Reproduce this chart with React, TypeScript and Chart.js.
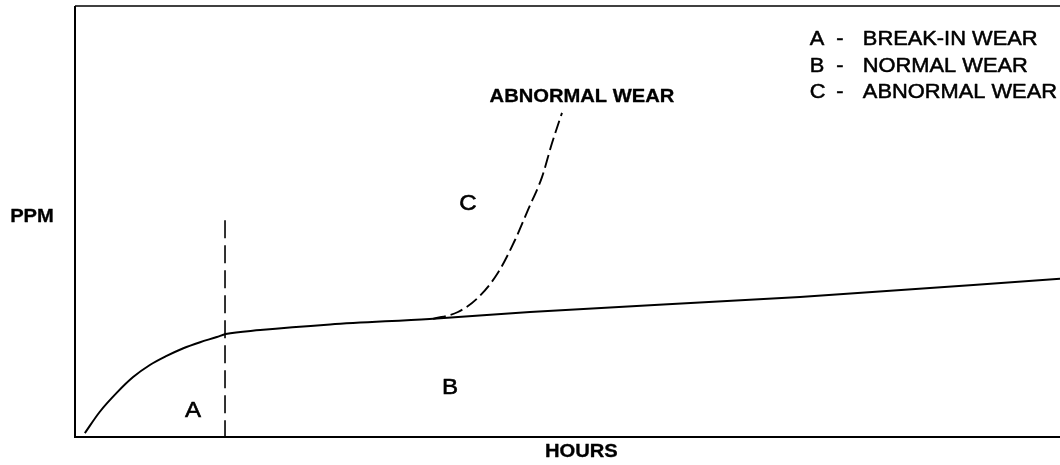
import React, { useEffect, useRef } from "react";
import { Chart, registerables } from "chart.js";

Chart.register(...registerables);

// Normal wear curve (break-in rise then slow linear increase)
const wearHours = [1.0, 2.5, 4.3, 5.9, 7.6, 9.3, 11.0, 12.7, 14.4, 15.3, 18.8, 25.9, 36.0, 46.2, 73.6, 100];
const wearPpm = [0.9, 5.8, 10.4, 13.9, 16.7, 18.8, 20.6, 22.0, 23.2, 23.9, 24.8, 26.1, 27.4, 29.0, 32.5, 36.7];

// Abnormal wear branch (dashed)
const abnormalHours = [36.35, 38.88, 40.91, 42.94, 44.67, 45.99, 47.41, 48.43, 49.44];
const abnormalPpm = [27.4, 29.0, 32.3, 38.1, 45.7, 52.7, 60.3, 68.2, 75.2];

// End of break-in period (vertical dashed divider)
const breakInEndHours = [15.23, 15.23];
const breakInEndPpm = [50.3, 0];

const legendLetters = ["A", "B", "C"];
const legendTexts = ["BREAK-IN WEAR", "NORMAL WEAR", "ABNORMAL WEAR"];
const zoneLabels = ["A", "B", "C"];
const zoneHours = [11.98, 38.07, 39.9];
const zonePpm = [6.0, 11.4, 54.1];
const curveLabel = "ABNORMAL WEAR";
const yTitle = "PPM";
const xTitle = "HOURS";

const FONT = '"Liberation Sans", Arial, Helvetica, sans-serif';
const SX = 1.12;

function toPoints(xs: number[], ys: number[]) {
  return xs.map((x, i) => ({ x, y: ys[i] }));
}

function drawText(
  ctx: CanvasRenderingContext2D,
  text: string,
  x: number,
  y: number,
  font: string,
  align: CanvasTextAlign,
  thicken = 0.5
) {
  ctx.save();
  ctx.translate(x, y);
  ctx.scale(SX, 1);
  ctx.font = font;
  ctx.textAlign = align;
  ctx.textBaseline = "middle";
  ctx.fillStyle = "#000";
  ctx.fillText(text, 0, 0);
  if (thicken > 0) {
    ctx.strokeStyle = "#000";
    ctx.lineWidth = thicken;
    ctx.lineJoin = "round";
    ctx.strokeText(text, 0, 0);
  }
  ctx.restore();
}

const decorPlugin = {
  id: "decor",
  beforeDatasetsDraw(chart: any) {
    const { ctx, chartArea } = chart;
    const { left, top, bottom } = chartArea;
    const right = chart.width;
    ctx.save();
    ctx.strokeStyle = "#000";
    ctx.lineWidth = 1.5;
    ctx.beginPath();
    ctx.moveTo(left, top);
    ctx.lineTo(right, top);
    ctx.stroke();
    ctx.lineWidth = 2;
    ctx.beginPath();
    ctx.moveTo(left, top);
    ctx.lineTo(left, bottom);
    ctx.lineTo(right, bottom);
    ctx.stroke();
    ctx.restore();
  },
  afterDraw(chart: any) {
    const { ctx, chartArea, scales } = chart;
    const xs = scales.x;
    const ys = scales.y;
    const bold = `bold 18px ${FONT}`;
    const reg = `19.5px ${FONT}`;
    const big = `21.5px ${FONT}`;

    drawText(ctx, yTitle, chartArea.left - 43, ys.getPixelForValue(51.0), bold, "center", 0.3);
    drawText(ctx, xTitle, xs.getPixelForValue(51.4), chartArea.bottom + 15, bold, "center", 0.3);
    drawText(ctx, curveLabel, xs.getPixelForValue(51.47), ys.getPixelForValue(78.9), bold, "center", 0.3);

    zoneLabels.forEach((t, i) => {
      drawText(ctx, t, xs.getPixelForValue(zoneHours[i]), ys.getPixelForValue(zonePpm[i]), big, "center", 0.6);
    });

    const legendRowsPpm = [92.2, 86.0, 79.8];
    legendLetters.forEach((l, i) => {
      const y = ys.getPixelForValue(legendRowsPpm[i]);
      const x0 = xs.getPixelForValue(74.6);
      drawText(ctx, l, x0, y, reg, "left");
      drawText(ctx, "-", x0 + 30, y, reg, "center");
      drawText(ctx, legendTexts[i], x0 + 53, y, reg, "left");
    });
  },
};

export default function App() {
  const ref = useRef<HTMLCanvasElement | null>(null);
  useEffect(() => {
    if (!ref.current) return;
    const chart = new Chart(ref.current, {
      type: "line",
      data: {
        datasets: [
          {
            data: toPoints(wearHours, wearPpm),
            borderColor: "#000",
            borderWidth: 2,
            pointRadius: 0,
            cubicInterpolationMode: "monotone",
            fill: false,
          },
          {
            data: toPoints(abnormalHours, abnormalPpm),
            borderColor: "#000",
            borderWidth: 1.9,
            borderDash: [13, 5],
            pointRadius: 0,
            cubicInterpolationMode: "monotone",
            fill: false,
          },
          {
            data: toPoints(breakInEndHours, breakInEndPpm),
            borderColor: "#000",
            borderWidth: 1.6,
            borderDash: [18, 7],
            pointRadius: 0,
            fill: false,
          },
        ],
      },
      options: {
        animation: false,
        responsive: false,
        devicePixelRatio: 1,
        layout: { padding: { left: 75, top: 6, right: 0, bottom: 28 } },
        plugins: { legend: { display: false }, tooltip: { enabled: false } },
        scales: {
          x: { type: "linear", min: 0, max: 100, display: false },
          y: { type: "linear", min: 0, max: 100, display: false },
        },
      },
      plugins: [decorPlugin],
    } as any);
    return () => chart.destroy();
  }, []);
  return (
    <div style={{ position: "fixed", left: 0, top: 0, width: 1060, height: 465, background: "#fff" }}>
      <canvas ref={ref} width={1060} height={465} />
    </div>
  );
}
